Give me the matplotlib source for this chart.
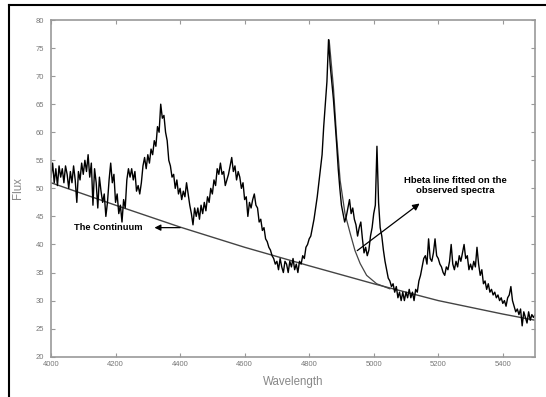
import numpy as np
import matplotlib
matplotlib.use('Agg')
import matplotlib.pyplot as plt
from matplotlib.lines import Line2D

plt.rcParams['font.family'] = ['Liberation Sans', 'DejaVu Sans']

# observed spectrum, sampled every 5 A from 4000 to 5500
wl = np.arange(4000, 5501, 5)
flux = [
    52, 54.5, 51, 53.5, 50.5, 54, 52, 53.5, 51, 54, 52.5, 50, 53, 51, 54, 51.5, 47.5, 53, 51.5, 54.5,
    52.5, 55, 53, 56, 52, 54.5, 47, 53.5, 51, 46.5, 52, 49.5, 47.5, 49, 45, 47.5, 51.5, 54.5, 51, 52.5,
    47.5, 49, 45.5, 47, 44, 48, 46.5, 51.5, 53.5, 52, 53.5, 51.5, 53, 49.5, 50.5, 49, 51, 54, 55.5, 53.5,
    56, 54.5, 57, 56, 58.5, 57.5, 61, 60, 65, 62.5, 63, 60, 58.5, 55, 54, 52, 52.5, 50, 51.5, 49,
    50, 48, 49.5, 48.5, 51, 49, 47, 45.5, 43.5, 46.5, 45, 46.5, 44.5, 47, 45.5, 47.5, 46, 48.5, 47.5, 50,
    49, 51.5, 50.5, 53.5, 52.5, 54.5, 52.5, 53, 50.5, 51.5, 52.5, 54, 55.5, 53, 54, 51.5, 53, 52, 50, 51,
    48, 48.5, 45, 47.5, 46.5, 48, 49, 47, 46.5, 44, 44.5, 42.5, 43, 41, 40.5, 39.5, 39, 38, 37.5, 36.5,
    37, 35.5, 37.5, 36, 35, 37, 36.5, 35, 37, 36, 37.5, 35.5, 36.5, 35, 37, 36.5, 38, 37.5, 39.5, 40,
    41, 41.5, 43, 44.5, 46.5, 48.5, 51, 53.5, 56, 61, 65, 69, 76.5, 72, 69, 66, 62, 58, 53.5, 50,
    47, 45.5, 44, 45, 46.5, 48, 45.5, 46.5, 44.5, 43.5, 41.5, 43, 44, 41, 38.5, 39.5, 38, 39, 41.5, 43,
    45.5, 47, 57.5, 47.5, 43, 41.5, 39, 37, 35.5, 34, 33.5, 32.5, 33, 31.5, 32.5, 30.5, 31.5, 30, 31.5, 30,
    31.5, 30.5, 32, 30.5, 31.5, 30, 32, 31.5, 33.5, 34.5, 36, 37.5, 38, 36.5, 41, 37.5, 37, 38.5, 41, 38,
    37.5, 36.5, 36, 35, 34.5, 36, 35.5, 37, 40, 36.5, 35.5, 37, 36, 38, 37, 38.5, 40, 37.5, 38, 35.5,
    36.5, 35.5, 37, 36, 39.5, 36.5, 34.5, 35.5, 33, 33.5, 32, 33, 31.5, 32, 31, 31.5, 30.5, 31, 30, 30.5,
    29.5, 30, 29, 30.5, 31, 32.5, 30, 29, 28, 28.5, 27.5, 28.5, 25.5, 28, 27, 26, 28, 26.5, 27.5, 27, 27.5,
]

# continuum
cont_wl = [4000, 4200, 4400, 4600, 4800, 5000, 5200, 5400, 5500]
cont_flux = [51.0, 47.0, 43.1, 39.5, 36.2, 33.0, 30.0, 27.6, 26.5]

# Hbeta fit, red wing
fit_wl = [4862, 4875, 4885, 4896, 4911, 4927, 4942, 4958, 4978, 5009, 5050]
fit_flux = [76.4, 68.1, 59.2, 51.4, 45.5, 42.0, 38.9, 36.6, 34.5, 33.0, 32.1]

xticks = [4000, 4200, 4400, 4600, 4800, 5000, 5200, 5400]
yticks = [20, 25, 30, 35, 40, 45, 50, 55, 60, 65, 70, 75, 80]

fig = plt.figure(figsize=(5.46, 3.97), dpi=100)
ax = fig.add_axes([0.0934, 0.1015, 0.8866, 0.8481])

ax.plot(cont_wl, cont_flux, color='#444444', lw=1.0)
ax.plot(fit_wl, fit_flux, color='#444444', lw=0.9)
ax.plot(wl, flux, color='black', lw=1.0)

ax.set_xlim(4000, 5500)
ax.set_ylim(20, 80)
ax.set_xticks(xticks)
ax.set_yticks(yticks)
ax.tick_params(direction='in', length=3, width=0.8, color='#999999',
               labelsize=5.5, labelcolor='#777777', top=True, right=True)
ax.tick_params(axis='x', pad=3)
ax.tick_params(axis='y', pad=5)
for s in ax.spines.values():
    s.set_color('#999999')
    s.set_linewidth(1.2)

ax.set_xlabel('Wavelength', fontsize=8.3, color='#888888', labelpad=6)
ax.set_ylabel('Flux', fontsize=8.3, color='#888888', labelpad=8)

ax.annotate('', xy=(4312, 43.0), xytext=(4409, 43.0),
            arrowprops=dict(arrowstyle='-|>', color='black', lw=0.9, mutation_scale=9))
ax.text(4177, 43.0, 'The Continuum', fontsize=6.7, fontweight='bold', ha='center', va='center')

ax.annotate('', xy=(5149, 47.6), xytext=(4942, 38.6),
            arrowprops=dict(arrowstyle='-|>', color='black', lw=0.9, mutation_scale=10))
ax.text(5252, 50.5, 'Hbeta line fitted on the\nobserved spectra', fontsize=6.8,
        fontweight='bold', ha='center', va='center', linespacing=1.2)

# outer frame of the scanned figure
fig.add_artist(Line2D([0.017, 0.017], [0.0, 0.987], color='black', lw=1.5))
fig.add_artist(Line2D([0.017, 1.0], [0.987, 0.987], color='black', lw=1.5))

plt.savefig('out.png')
plt.close()
